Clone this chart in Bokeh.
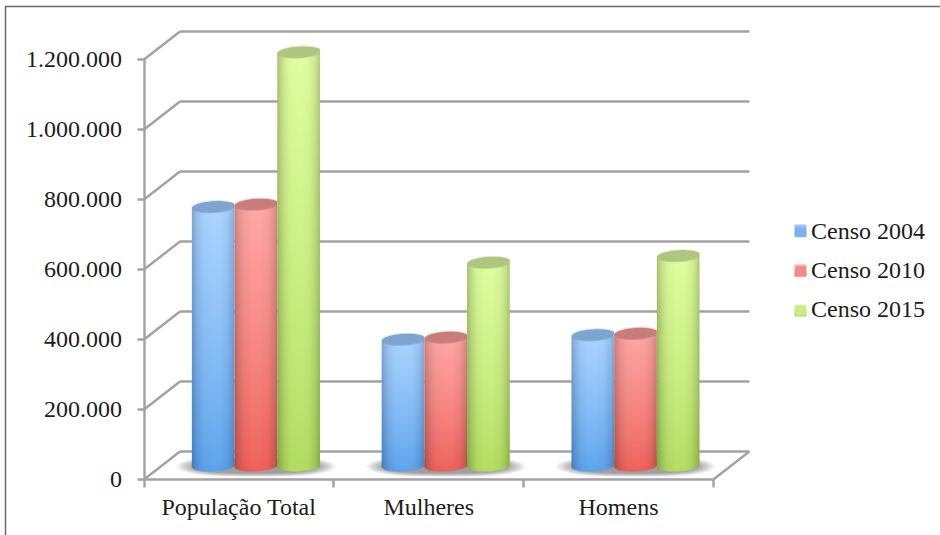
import numpy as np
from bokeh.embed import file_html
from bokeh.models import BoxAnnotation, FixedTicker, Legend, LegendItem
from bokeh.plotting import figure
from bokeh.resources import INLINE

# Census figures, one list per census, in category order
categories = ["População Total", "Mulheres", "Homens"]
censo_2004 = [739000, 360000, 373000]
censo_2010 = [746000, 366000, 377000]
censo_2015 = [1181000, 580000, 599000]
series_names = ["Censo 2004", "Censo 2010", "Censo 2015"]
y_ticks = [0, 200000, 400000, 600000, 800000, 1000000, 1200000]
y_labels = ["0", "200.000", "400.000", "600.000", "800.000", "1.000.000", "1.200.000"]

# Drawing scale of the pseudo-3D box
W, H = 940, 535
LEFT, BOTTOM = 143.5, 56
GROUP_PX = 189.8
VALUE_PX = 70 / 200000
DEPTH_X_PX, DEPTH_Y_PX = 36, 28
BAR_PX = 42.7
BAR_SHIFT_PX = 17
RY_PX = 6.0
TILT_PX = 1.2

depth_x = DEPTH_X_PX / GROUP_PX
depth_y = DEPTH_Y_PX / VALUE_PX
bar_w = BAR_PX / GROUP_PX
bar_shift = BAR_SHIFT_PX / GROUP_PX

# (top centre, bottom centre, top edge, bottom edge, lid)
palette = [
    ("#aed6ff", "#5ba2ec", "#80a6d2", "#3c78b8", "#7fa4d0"),
    ("#ffaaa8", "#ee5f58", "#cc8280", "#ac4642", "#c97d7a"),
    ("#e0ffa2", "#b2dc60", "#a9c272", "#7ba23c", "#aec680"),
]
flat_colors = ["#7cb2f2", "#f58a86", "#cbec80"]
swatch_shades = [("#9fc9f7", "#5c9be6"), ("#ffb0ae", "#ec6a64"), ("#dcf7a8", "#b0d868")]


def rgb(h):
    return np.array([int(h[i:i + 2], 16) for i in (1, 3, 5)], dtype=float)


def rgba_buffer(h, w):
    out = np.zeros((h, w), dtype=np.uint32)
    return out, out.view(dtype=np.uint8).reshape((h, w, 4))


def cylinder(height_px, colors):
    """RGBA raster of a shaded cylinder with slightly tilted ellipses; row 0 is the bottom."""
    margin = RY_PX + TILT_PX
    w = int(round(BAR_PX))
    h = int(round(height_px + 2 * margin))
    cols, rows = np.meshgrid(np.arange(w) + 0.5, np.arange(h) + 0.5)
    u = cols / w * 2 - 1
    py = rows - margin
    rim = RY_PX * np.sqrt(np.clip(1 - u ** 2, 0, 1))
    tilt = TILT_PX * u
    t = (rows / h)[..., None]
    edge = (np.abs(u) ** 3.0)[..., None]
    top_c, bot_c, top_e, bot_e, lid = [rgb(c) for c in colors]
    t2 = t ** 0.8
    centre = bot_c * (1 - t2) + top_c * t2
    side = bot_e * (1 - t2) + top_e * t2
    color = centre * (1 - edge) + side * edge
    lid_alpha = np.clip(rim - np.abs(py - height_px - tilt) + 0.5, 0, 1)[..., None]
    color = color * (1 - lid_alpha) + lid * lid_alpha
    alpha = np.clip(py - tilt + rim + 0.5, 0, 1) * np.clip(height_px + tilt + rim - py + 0.5, 0, 1)
    alpha = alpha * np.clip((1 - np.abs(u)) * w / 2 + 0.5, 0, 1)
    out, view = rgba_buffer(h, w)
    view[..., :3] = np.clip(color, 0, 255).astype(np.uint8)
    view[..., 3] = (alpha * 255).astype(np.uint8)
    return out


def floor_shadow(w, h):
    """Soft grey oval under a group of bars."""
    xs, ys = np.meshgrid(np.linspace(-1, 1, w), np.linspace(-1, 1, h))
    d = np.abs(xs) ** 3 + ys ** 2
    out, view = rgba_buffer(h, w)
    view[..., :3] = 118
    view[..., 3] = (np.clip((1 - d) / 0.6, 0, 1) * 0.7 * 255).astype(np.uint8)
    return out


def swatch(top, bottom, size):
    ts = np.linspace(0, 1, size)[:, None, None]
    colour = rgb(bottom) * (1 - ts) + rgb(top) * ts
    out, view = rgba_buffer(size, size)
    view[..., :3] = np.repeat(colour, size, axis=1).astype(np.uint8)
    view[..., 3] = 255
    return out


# The frame fills the page; both axes are pinned at the corner of the 3D box
p = figure(
    width=W, height=H, output_backend="svg", toolbar_location=None,
    x_range=(-LEFT / GROUP_PX, (W - LEFT) / GROUP_PX),
    y_range=(-BOTTOM / VALUE_PX, (H - BOTTOM) / VALUE_PX),
    min_border_left=0, min_border_right=0, min_border_top=0, min_border_bottom=0,
    outline_line_color=None, background_fill_color="white", border_fill_color="white",
)
p.grid.visible = False

GREY = "#a2a2a2"
LW = 2.4
FONT = "Liberation Serif"
FONT_SIZE = "24px"
TEXT = "#1c1c1c"

# Side walls, back wall and floor outline
n_groups = len(categories)
p.segment(x0=[0] * len(y_ticks), y0=y_ticks, x1=[depth_x] * len(y_ticks),
          y1=[v + depth_y for v in y_ticks], line_color=GREY, line_width=LW)
p.segment(x0=[depth_x] * len(y_ticks), y0=[v + depth_y for v in y_ticks],
          x1=[n_groups + depth_x] * len(y_ticks), y1=[v + depth_y for v in y_ticks],
          line_color=GREY, line_width=LW)
p.segment(x0=[n_groups], y0=[0], x1=[n_groups + depth_x], y1=[depth_y],
          line_color=GREY, line_width=LW)

all_series = [censo_2004, censo_2010, censo_2015]
base = depth_y / 2

# Floor shadows sit under each group
SHADOW_W, SHADOW_H = 162, 22
for g in range(n_groups):
    centre = g + bar_shift + 0.5
    p.image_rgba(image=[floor_shadow(SHADOW_W, SHADOW_H)],
                 x=centre - SHADOW_W / 2 / GROUP_PX,
                 y=base - (1 + SHADOW_H / 2) / VALUE_PX,
                 dw=SHADOW_W / GROUP_PX, dh=SHADOW_H / VALUE_PX)

# Flat bars carry the values and the legend keys; they stay inside the shaded cylinders
legend_items = []
for s, (values, name) in enumerate(zip(all_series, series_names)):
    xs = [g + bar_shift + 0.5 + (s - 1) * bar_w for g in range(n_groups)]
    bars = p.vbar(x=xs, width=bar_w * 0.8, bottom=base, top=[v + base for v in values],
                  fill_color=flat_colors[s], line_color=None)
    legend_items.append(LegendItem(label=name, renderers=[bars]))

margin_value = (RY_PX + TILT_PX) / VALUE_PX
for g in range(n_groups):
    for s, values in enumerate(all_series):
        img = cylinder(values[g] * VALUE_PX, palette[s])
        x_mid = g + bar_shift + 0.5 + (s - 1) * bar_w
        p.image_rgba(image=[img], x=x_mid - bar_w / 2, y=base - margin_value,
                     dw=bar_w, dh=img.shape[0] / VALUE_PX)

# Axes
p.yaxis.fixed_location = 0
p.yaxis.ticker = FixedTicker(ticks=y_ticks)
p.yaxis.major_label_overrides = dict(zip(y_ticks, y_labels))
p.yaxis.bounds = (0, y_ticks[-1])
p.yaxis.axis_line_color = GREY
p.yaxis.axis_line_width = LW
p.yaxis.major_tick_line_color = GREY
p.yaxis.major_tick_line_width = LW
p.yaxis.major_tick_out = 7
p.yaxis.major_tick_in = 0
p.yaxis.minor_tick_line_color = None
p.yaxis.major_label_standoff = 15
p.yaxis.major_label_text_font = FONT
p.yaxis.major_label_text_font_size = FONT_SIZE
p.yaxis.major_label_text_color = TEXT

label_pos = [g + 0.5 for g in range(n_groups)]
p.xaxis.fixed_location = 0
p.xaxis.ticker = FixedTicker(ticks=label_pos, minor_ticks=list(range(n_groups + 1)))
p.xaxis.major_label_overrides = dict(zip(label_pos, categories))
p.xaxis.bounds = (0, n_groups)
p.xaxis.axis_line_color = GREY
p.xaxis.axis_line_width = LW
p.xaxis.major_tick_line_color = None
p.xaxis.minor_tick_line_color = GREY
p.xaxis.minor_tick_line_width = LW
p.xaxis.minor_tick_out = 8
p.xaxis.minor_tick_in = 0
p.xaxis.major_label_standoff = 6
p.xaxis.major_label_text_font = FONT
p.xaxis.major_label_text_font_size = FONT_SIZE
p.xaxis.major_label_text_color = TEXT

# Legend, with gradient keys laid over its flat swatches
KEY_PX = 12
KEY_LEFT, KEY_TOPS = 794, [224, 264, 304]
legend = Legend(
    items=legend_items, location=(KEY_LEFT, H - 323), orientation="vertical",
    glyph_width=KEY_PX, glyph_height=KEY_PX, label_standoff=5, spacing=12, margin=0, padding=0,
    border_line_color=None, background_fill_alpha=0,
    label_text_font=FONT, label_text_font_size=FONT_SIZE, label_text_color=TEXT,
)
p.add_layout(legend, "center")
for (top, bottom), key_top in zip(swatch_shades, KEY_TOPS):
    p.image_rgba(image=[swatch(top, bottom, KEY_PX)], x=(KEY_LEFT - LEFT) / GROUP_PX,
                 y=(H - BOTTOM - key_top - KEY_PX) / VALUE_PX,
                 dw=KEY_PX / GROUP_PX, dh=KEY_PX / VALUE_PX, level="overlay")

# Page border along the top and left edges
p.add_layout(BoxAnnotation(
    left=5, right=W + 10, top=6, bottom=H + 10,
    left_units="canvas", right_units="canvas", top_units="canvas", bottom_units="canvas",
    fill_alpha=0, line_color="#6a6a6a", line_alpha=1, line_width=1.5,
))

open("out.html", "w").write(file_html(p, INLINE))
